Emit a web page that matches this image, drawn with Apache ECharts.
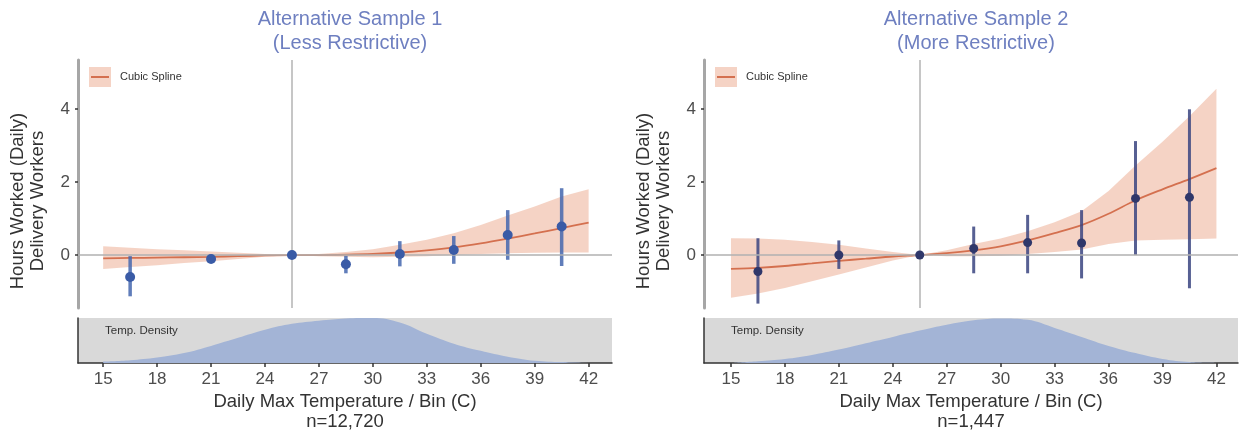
<!DOCTYPE html>
<html><head><meta charset="utf-8">
<script src="https://cdn.jsdelivr.net/npm/echarts@6/dist/echarts.min.js"></script>
<style>html,body{margin:0;padding:0;background:#fff}#c{width:1239px;height:433px}</style>
</head><body><div id="c"></div>
<script>
// ---- data ----
const bins = [16.5, 21, 25.5, 28.5, 31.5, 34.5, 37.5, 40.5];
const est1 = [-0.6, -0.11, 0, -0.25, 0.03, 0.14, 0.55, 0.78];
const lo1  = [-1.13, -0.2, 0, -0.5, -0.31, -0.24, -0.13, -0.3];
const hi1  = [-0.03, -0.03, 0, -0.02, 0.38, 0.52, 1.23, 1.83];
const est2 = [-0.45, 0.0, 0, 0.18, 0.34, 0.33, 1.55, 1.58];
const lo2  = [-1.33, -0.38, 0, -0.5, -0.5, -0.64, 0.0, -0.91];
const hi2  = [0.46, 0.4, 0, 0.78, 1.1, 1.23, 3.12, 3.99];

const splineX = [15, 16.5, 18, 19.5, 21, 22.5, 24, 25.5, 27, 28.5, 30, 31.5, 33, 34.5, 36, 37.5, 39, 40.5, 42];
const fit1   = [-0.09, -0.08, -0.07, -0.06, -0.05, -0.03, -0.01, 0, 0.0, 0.01, 0.03, 0.07, 0.13, 0.21, 0.32, 0.45, 0.59, 0.74, 0.89];
const fitLo1 = [-0.38, -0.33, -0.28, -0.22, -0.17, -0.11, -0.05, 0, -0.03, -0.05, -0.06, -0.05, -0.03, 0.0, 0.03, 0.05, 0.06, 0.07, 0.07];
const fitHi1 = [0.24, 0.2, 0.16, 0.13, 0.1, 0.06, 0.03, 0, 0.03, 0.08, 0.16, 0.28, 0.42, 0.6, 0.82, 1.08, 1.33, 1.6, 1.8];
const fit2   = [-0.38, -0.35, -0.3, -0.23, -0.16, -0.1, -0.04, 0, 0.05, 0.13, 0.24, 0.4, 0.6, 0.82, 1.13, 1.5, 1.8, 2.08, 2.38];
const fitLo2 = [-1.17, -1.05, -0.9, -0.72, -0.53, -0.34, -0.15, 0, -0.03, -0.03, -0.02, 0.03, 0.08, 0.15, 0.3, 0.4, 0.42, 0.43, 0.45];
const fitHi2 = [0.46, 0.45, 0.42, 0.36, 0.28, 0.18, 0.08, 0, 0.13, 0.3, 0.45, 0.65, 0.9, 1.2, 1.75, 2.45, 3.1, 3.8, 4.55];

const densX = [15, 16.5, 18, 19.5, 21, 22.5, 24, 25.5, 27, 28.5, 30, 31.5, 33, 34.5, 36, 37.5, 39, 40.5, 42];
const dens1 = [0.03, 0.06, 0.12, 0.22, 0.38, 0.56, 0.74, 0.87, 0.94, 0.99, 1.0, 0.9, 0.65, 0.43, 0.27, 0.14, 0.05, 0.02, 0.01];
const dens2 = [0.0, 0.04, 0.09, 0.18, 0.3, 0.44, 0.58, 0.72, 0.85, 0.95, 0.99, 0.96, 0.78, 0.58, 0.38, 0.22, 0.09, 0.02, 0.0];

const xTicks = [15, 18, 21, 24, 27, 30, 33, 36, 39, 42];
const yTicks = [0, 2, 4];
const refTemp = 25.5;
const titles = ['Alternative Sample 1\n(Less Restrictive)', 'Alternative Sample 2\n(More Restrictive)'];
const nLabels = ['n=12,720', 'n=1,447'];
const xName = 'Daily Max Temperature / Bin (C)';
const yName = 'Hours Worked (Daily)\nDelivery Workers';
const legendName = 'Cubic Spline';
const densLabel = 'Temp. Density';

// ---- build ----
const FONT = 'Liberation Sans, Arial, sans-serif';
const zip = (a, b) => a.map((v, i) => [v, b[i]]);
const panels = [
  {left: 78, width: 534, xmin: 13.6, xmax: 43.3, est: est1, lo: lo1, hi: hi1, fit: fit1, flo: fitLo1, fhi: fitHi1, dens: dens1,
   ptColor: '#3a5ba6', ciColor: '#4466ae', ciW: 3.5, ptSize: 10},
  {left: 704, width: 534, xmin: 13.5, xmax: 43.2, est: est2, lo: lo2, hi: hi2, fit: fit2, flo: fitLo2, fhi: fitHi2, dens: dens2,
   ptColor: '#2f376a', ciColor: '#3a4480', ciW: 3, ptSize: 9}
];
const grid = [], xAxis = [], yAxis = [], series = [], title = [], legend = [];
panels.forEach((p, i) => {
  const gm = grid.length;
  grid.push({left: p.left, top: 60, width: p.width, height: 248});
  grid.push({left: p.left, top: 318, width: p.width, height: 46, show: true, backgroundColor: '#d9d9d9', borderWidth: 0});
  xAxis.push({gridIndex: gm, type: 'value', min: p.xmin, max: p.xmax, show: false});
  xAxis.push({gridIndex: gm + 1, type: 'value', min: p.xmin, max: p.xmax,
    axisLine: {show: true, onZero: false, lineStyle: {color: '#333', width: 1.5}},
    axisTick: {show: true, customValues: xTicks, length: 4, lineStyle: {color: '#333', width: 1.5}},
    axisLabel: {show: true, customValues: xTicks, fontSize: 17, color: '#4d4d4d', margin: 8, fontFamily: FONT},
    splitLine: {show: false},
    name: xName + '\n' + nLabels[i], nameLocation: 'middle', nameGap: 29,
    nameTextStyle: {fontSize: 18.5, color: '#333', lineHeight: 20, fontFamily: FONT}});
  yAxis.push({gridIndex: gm, type: 'value', min: -1.45, max: 5.34,
    axisLine: {show: true, onZero: false, lineStyle: {color: '#a6a6a6', width: 3}},
    axisTick: {show: true, customValues: yTicks, length: 3, lineStyle: {color: '#333', width: 1.5}},
    axisLabel: {show: true, customValues: yTicks, fontSize: 17, color: '#4d4d4d', margin: 8, fontFamily: FONT},
    splitLine: {show: false},
    name: yName, nameLocation: 'middle', nameGap: 30,
    nameTextStyle: {fontSize: 18.5, color: '#333', lineHeight: 20, fontFamily: FONT, padding: [0, 34, 0, 0]}});
  yAxis.push({gridIndex: gm + 1, type: 'value', min: 0, max: 1,
    axisLine: {show: true, lineStyle: {color: '#333', width: 1.5}},
    axisTick: {show: false}, axisLabel: {show: false}, splitLine: {show: false}});

  // confidence ribbon of the spline (polygon through library coordinates)
  series.push({type: 'custom', xAxisIndex: gm, yAxisIndex: gm, z: 1, silent: true,
    data: splineX.map((x, k) => [x, p.flo[k], p.fhi[k]]), encode: {x: 0, y: [1, 2]},
    renderItem: (params, api) => {
      if (params.dataIndex !== 0) return null;
      const up = splineX.map((x, k) => api.coord([x, p.fhi[k]]));
      const dn = splineX.map((x, k) => api.coord([x, p.flo[k]])).reverse();
      return {type: 'polygon', shape: {points: up.concat(dn)}, style: {fill: '#eca88c', opacity: 0.5}};
    }});
  // fitted spline + reference lines
  series.push({type: 'line', name: legendName, xAxisIndex: gm, yAxisIndex: gm, data: zip(splineX, p.fit),
    symbol: 'none', smooth: 0.3, lineStyle: {color: '#d4704f', width: 1.8}, itemStyle: {color: '#d4704f'}, z: 3,
    markLine: {silent: true, symbol: ['none', 'none'], label: {show: false}, animation: false,
      data: [
        {yAxis: 0, lineStyle: {color: '#b0b0b0', width: 1.5, type: 'solid'}},
        {xAxis: refTemp, lineStyle: {color: '#c6c6c6', width: 2, type: 'solid'}}
      ]}});
  // CIs
  series.push({type: 'custom', xAxisIndex: gm, yAxisIndex: gm, z: 4,
    data: bins.map((b, k) => [b, p.lo[k], p.hi[k]]), encode: {x: 0, y: [1, 2]},
    renderItem: (params, api) => {
      const a = api.coord([api.value(0), api.value(1)]);
      const b = api.coord([api.value(0), api.value(2)]);
      return {type: 'line', shape: {x1: a[0], y1: a[1], x2: b[0], y2: b[1]},
        style: {stroke: p.ciColor, lineWidth: p.ciW, opacity: 0.85}};
    }});
  // point estimates
  series.push({type: 'scatter', xAxisIndex: gm, yAxisIndex: gm, data: zip(bins, p.est),
    symbolSize: p.ptSize, itemStyle: {color: p.ptColor, opacity: 1}, z: 5});
  // density
  series.push({type: 'line', xAxisIndex: gm + 1, yAxisIndex: gm + 1, data: zip(densX, p.dens),
    symbol: 'none', smooth: 0.4, silent: true, lineStyle: {width: 0}, areaStyle: {color: '#a3b4d6', opacity: 1}});

  title.push({text: titles[i], left: p.left + p.width / 2, top: 2, textAlign: 'center',
    textStyle: {fontSize: 20, fontWeight: 'normal', color: '#6e7fc0', lineHeight: 24, fontFamily: FONT}});
  title.push({text: densLabel, left: p.left + 22, top: 320,
    textStyle: {fontSize: 11.5, fontWeight: 'normal', color: '#333', fontFamily: FONT}});

  legend.push({data: [legendName], left: p.left + 6, top: 62, orient: 'vertical', selectedMode: false,
    icon: 'rect', itemWidth: 22, itemHeight: 20, itemStyle: {color: '#f5d3c5', borderWidth: 0},
    textStyle: {fontSize: 11, color: '#333', fontFamily: FONT, padding: [0, 0, 0, 4]}});
  legend.push({data: [legendName], left: p.left + 8, top: 71, orient: 'vertical', selectedMode: false, z: 10,
    icon: 'rect', itemWidth: 18, itemHeight: 2, itemStyle: {color: '#d4704f', borderWidth: 0},
    formatter: () => '', textStyle: {fontSize: 1}});
});

const chart = echarts.init(document.getElementById('c'), null, {renderer: 'canvas'});
chart.setOption({
  animation: false,
  backgroundColor: '#fff',
  textStyle: {fontFamily: FONT},
  title, legend, grid, xAxis, yAxis, series
});
</script>
</body></html>
